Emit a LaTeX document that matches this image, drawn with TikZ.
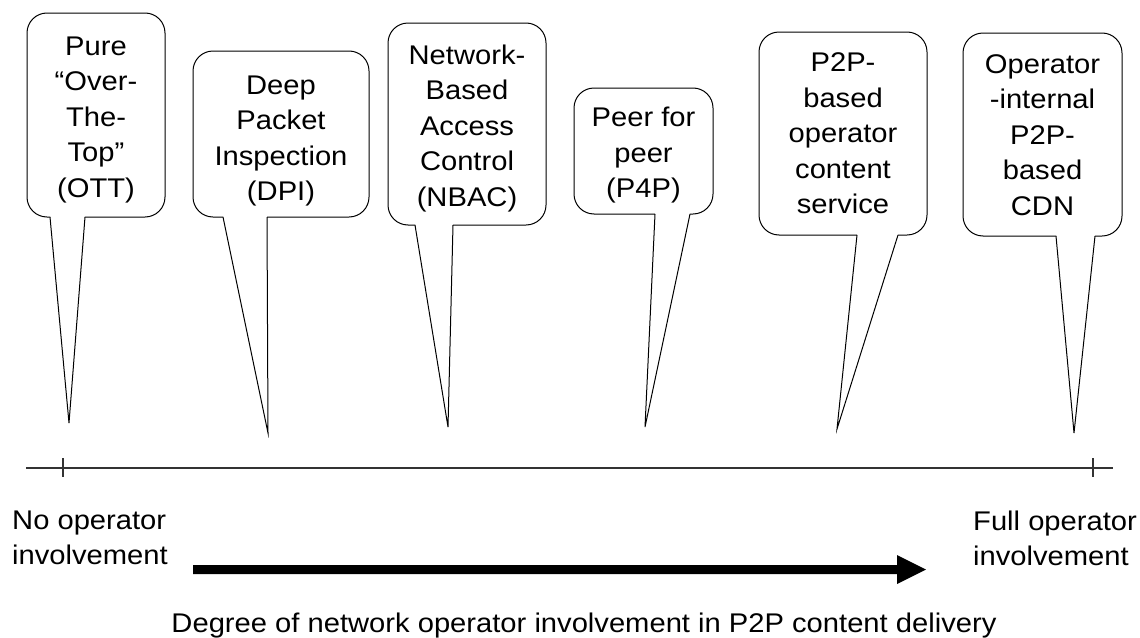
\documentclass[tikz,border=0pt]{standalone}
\usepackage{fontspec}
\setmainfont{Liberation Sans}[FakeStretch=1.08]
\begin{document}
\begin{tikzpicture}[x=1pt,y=-1pt,
  label/.style={font=\fontsize{27}{35.5}\selectfont, align=center, inner sep=0pt},
  endlabel/.style={font=\fontsize{27}{35}\selectfont, align=left, inner sep=0pt, anchor=north west},
  bubbleline/.style={draw=black, line width=1pt},
  axisline/.style={draw=black!80, line width=1.2pt}]
\useasboundingbox (0,0) rectangle (1140,637);

% callout outline: #1 left, #2 right, #3 top, #4 bottom, #5/#6 pointer base, #7 pointer tip
\newcommand\bubble[7]{%
  \draw[bubbleline, rounded corners=20pt] (#6,#4) -| (#2,#3) -| (#1,#4) -- (#5,#4);
  \draw[bubbleline] (#5,#4) -- (#7) -- (#6,#4);}

% approaches, ordered by operator involvement
\coordinate (ott-tip)  at (69,423);
\coordinate (dpi-tip)  at (268,433);
\coordinate (nbac-tip) at (448,427);
\coordinate (p4p-tip)  at (645,427);
\coordinate (svc-tip)  at (837,429);
\coordinate (cdn-tip)  at (1074,433);

\bubble{27}{165}{13}{217}{50}{85}{ott-tip}
\bubble{193}{369}{51}{217}{223}{267}{dpi-tip}
\bubble{388}{546}{23}{225}{415}{453}{nbac-tip}
\bubble{574}{713}{88}{214}{655}{690}{p4p-tip}
\bubble{759}{927}{32}{235}{857}{898}{svc-tip}
\bubble{963}{1122}{33}{236}{1056}{1095}{cdn-tip}

\node[label] (ott)  at (96,120)    {Pure\\“Over-\\The-\\Top”\\(OTT)};
\node[label] (dpi)  at (281,141)   {Deep\\Packet\\Inspection\\(DPI)};
\node[label] (nbac) at (467,128.5) {Network-\\Based\\Access\\Control\\(NBAC)};
\node[label] (p4p)  at (643.5,155.5) {Peer for\\peer\\(P4P)};
\node[label] (svc)  at (843,133.5) {P2P-\\based\\operator\\content\\service};
\node[label] (cdn)  at (1042.5,135) {Operator\\-internal\\P2P-\\based\\CDN};

% involvement axis with its two end ticks
\coordinate (axis-w) at (26,468);
\coordinate (axis-e) at (1113,468);
\draw[axisline] (axis-w) -- (axis-e);
\draw[axisline] (63,458) -- (63,477);
\draw[axisline] (1093,458) -- (1093,477);

\node[endlabel] (none) at (12,510.7) {No operator\\involvement};
\node[endlabel] (full) at (973,511)  {Full operator\\involvement};

% direction arrow
\fill[black] (193,565) -- (897,565) -- (897,555) -- (926,569.5)
  -- (897,584) -- (897,574) -- (193,574) -- cycle;

\node[font=\fontsize{27}{35}\selectfont, inner sep=0pt, anchor=base] (caption) at (584,632)
  {Degree of network operator involvement in P2P content delivery};
\end{tikzpicture}
\end{document}
